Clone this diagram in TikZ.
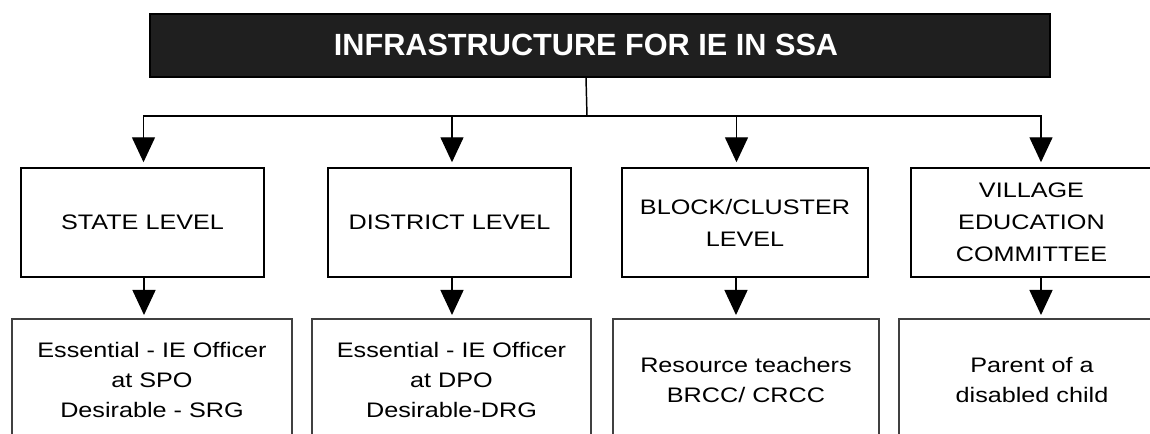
\documentclass[tikz,border=0pt]{standalone}
\usepackage{fontspec}
\setmainfont{Liberation Sans}[FakeStretch=1.2]
\newfontfamily\titlefont{Liberation Sans}
\usetikzlibrary{arrows.meta}
\begin{document}
\begin{tikzpicture}[x=0.75pt,y=-0.75pt,
  lvl/.style={draw, line width=1.1pt, minimum height=81.75pt, inner sep=0pt, align=center,
    font=\fontsize{15.75}{24}\selectfont},
  bot/.style={draw=black!75, line width=0.8pt, minimum height=91.5pt, inner sep=0pt, align=center,
    font=\fontsize{15.75}{22.5}\selectfont},
  conn/.style={line width=1.1pt},
  arr/.style={line width=1.1pt, -{Triangle[width=17.25pt,length=18.75pt]}},
  titlebar/.style={fill=black!88, draw=black, line width=1pt, minimum width=675pt, minimum height=47.25pt, inner sep=0pt},
  titletxt/.style={text=white, font=\titlefont\bfseries\fontsize{23}{27}\selectfont, inner sep=0pt}
]
\useasboundingbox[fill=white] (0,0) rectangle (1150,434);
\clip (0,0) rectangle (1150,434);

% title
\node[titlebar] (bar) at (600,45.5) {};
\node[titletxt] (ttl) at (586,45) {INFRASTRUCTURE FOR IE IN SSA};
\coordinate (hub) at (587,116);
\draw[conn] (ttl |- bar.south) -- (hub);

% level boxes
\node[lvl, minimum width=182.25pt] (state) at (142.5,222.5) {STATE LEVEL};
\node[lvl, minimum width=182.25pt] (district) at (449.5,222.5) {DISTRICT LEVEL};
\node[lvl, minimum width=184.5pt] (block) at (745,222.5) {BLOCK/CLUSTER\\LEVEL};
\node[lvl, minimum width=180.75pt] (village) at (1031.5,222.5) {VILLAGE\\EDUCATION\\COMMITTEE};

% bottom boxes
\node[bot, minimum width=210pt] (s2) at (152,380) {Essential - IE Officer\\at SPO\\Desirable - SRG};
\node[bot, minimum width=209.25pt] (d2) at (451.5,380) {Essential - IE Officer\\at DPO\\Desirable-DRG};
\node[bot, minimum width=199.5pt] (b2) at (746,380) {Resource teachers\\BRCC/ CRCC};
\node[bot, minimum width=199.5pt] (v2) at (1032,380) {Parent of a\\disabled child};

% upper arrows
\draw[arr, shorten >=3.75pt] (hub) -| ([shift={(1,0)}]state.north);
\draw[arr, shorten >=3.75pt] (hub) -| ([shift={(2.5,0)}]district.north);
\draw[arr, shorten >=3.75pt] (hub) -| ([shift={(-8.5,0)}]block.north);
\draw[arr, shorten >=3.75pt] (hub) -| ([shift={(9.5,0)}]village.north);

% lower arrows
\coordinate (sa) at ([shift={(1.5,0)}]state.south);
\coordinate (da) at ([shift={(2.5,0)}]district.south);
\coordinate (ba) at ([shift={(-9,0)}]block.south);
\coordinate (va) at ([shift={(9.5,0)}]village.south);
\draw[arr, shorten >=2.6pt] (sa) -- (sa |- s2.north);
\draw[arr, shorten >=2.6pt] (da) -- (da |- d2.north);
\draw[arr, shorten >=2.6pt] (ba) -- (ba |- b2.north);
\draw[arr, shorten >=2.6pt] (va) -- (va |- v2.north);
\end{tikzpicture}
\end{document}
